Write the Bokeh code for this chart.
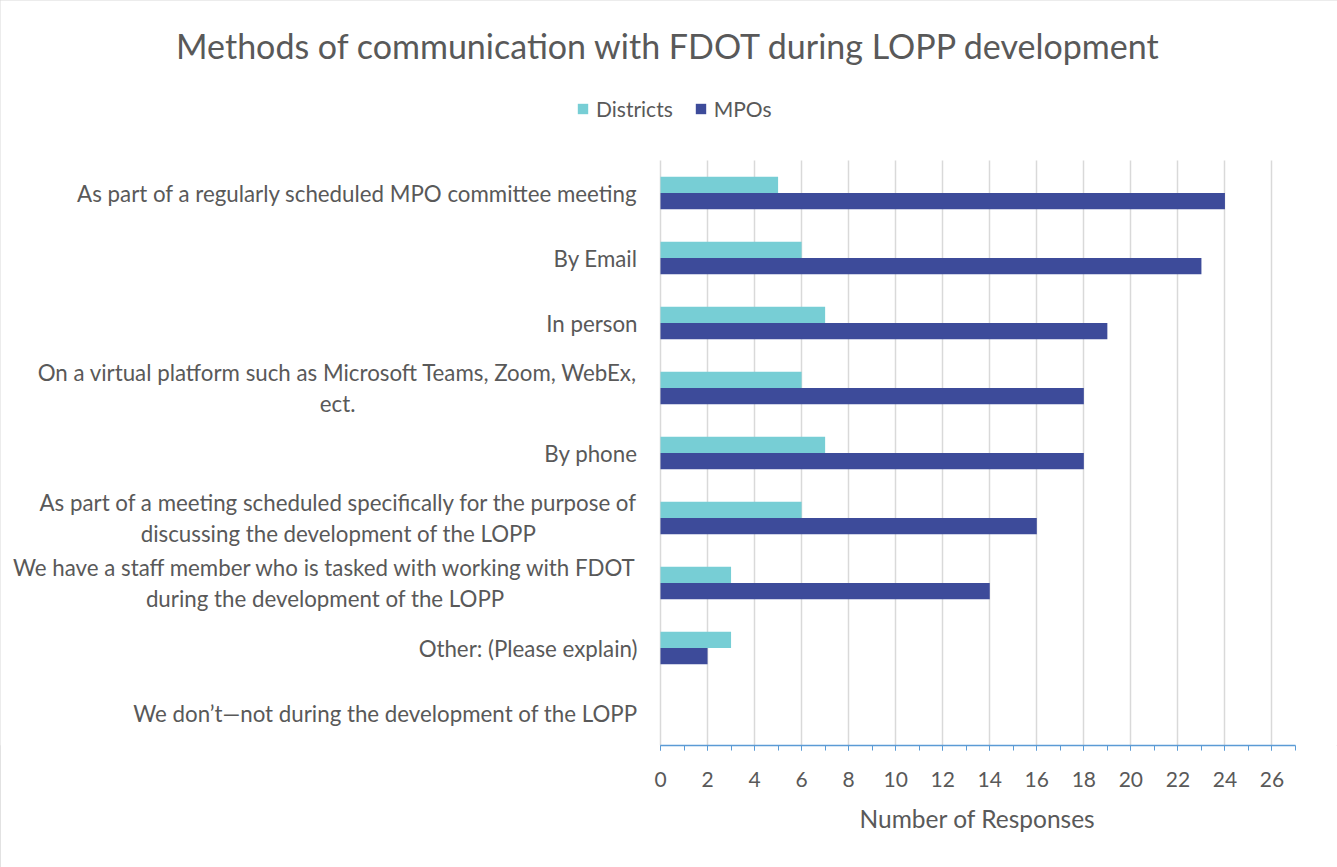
from bokeh.plotting import figure
from bokeh.models import (Range1d, FixedTicker, Legend, LegendItem, Label,
                          Title, ColumnDataSource)
from bokeh.core.properties import value
from bokeh.embed import file_html
from bokeh.resources import INLINE

categories = [
    "As part of a regularly scheduled MPO committee meeting",
    "By Email",
    "In person",
    "On a virtual platform such as Microsoft Teams, Zoom, WebEx,\nect.",
    "By phone",
    "As part of a meeting scheduled specifically for the purpose of\ndiscussing the development of the LOPP",
    "We have a staff member who is tasked with working with FDOT\nduring the development of the LOPP",
    "Other: (Please explain)",
    "We don\u2019t\u2014not during the development of the LOPP",
]
districts = [5, 6, 7, 6, 7, 6, 3, 3, 0]
mpos = [24, 23, 19, 18, 18, 16, 14, 2, 0]
x_ticks = list(range(0, 27, 2))
x_max = 27
title_text = "Methods of communication with FDOT during LOPP development"
x_title = "Number of Responses"

FONT = "Lato"
TXT = "#595959"
C_D = "#77CED5"
C_M = "#3D4B9A"

W, H = 1337, 867
PLOT_L, PLOT_R = 660, 1295       # pixel span of 0 .. x_max
PLOT_T, PLOT_B = 160, 745        # top of first band, axis line
n = len(categories)

ppu = (PLOT_R - PLOT_L) / x_max
ppc = (PLOT_B - PLOT_T) / n
x_lo = -PLOT_L / ppu
x_hi = x_max + (W - PLOT_R) / ppu
y_top = -0.5 - PLOT_T / ppc

ypos = list(range(n))
src = ColumnDataSource(dict(
    y=ypos,
    yd=[y - 0.125 for y in ypos],
    ym=[y + 0.125 for y in ypos],
    zero=[0] * n,
    d=districts, m=mpos, cat=categories))

p = figure(width=W, height=H, x_range=Range1d(x_lo, x_hi),
           y_range=Range1d(n - 0.5, y_top),
           output_backend="svg", toolbar_location=None,
           y_axis_location=None,
           min_border_left=0, min_border_right=0,
           min_border_top=0, min_border_bottom=H - PLOT_B)
p.outline_line_color = None
p.styles = {"outline": "1px solid #D9D9D9", "outline-offset": "-1px"}

rd = p.hbar(y="yd", right="d", left=0, height=0.25, source=src,
            fill_color=C_D, line_color=None)
rm = p.hbar(y="ym", right="m", left=0, height=0.25, source=src,
            fill_color=C_M, line_color=None)

# category labels (right-anchored block, centred lines)
p.text(x="zero", y="y", text="cat", source=src, x_offset=-23,
       anchor=value("center_right"), text_align=value("center"),
       text_font=value(FONT), text_font_size=value("22.3px"),
       text_color=TXT, text_line_height=1.12)

# x axis
p.xaxis.bounds = (0, x_max)
p.xaxis.ticker = FixedTicker(ticks=x_ticks, minor_ticks=list(range(0, x_max + 1)))
p.xaxis.axis_line_color = "#5B9BD5"
p.xaxis.axis_line_width = 1.5
p.xaxis.major_tick_line_color = "#5B9BD5"
p.xaxis.minor_tick_line_color = "#5B9BD5"
p.xaxis.major_tick_in = 0
p.xaxis.major_tick_out = 5
p.xaxis.minor_tick_in = 0
p.xaxis.minor_tick_out = 5
p.xaxis.major_label_text_font = FONT
p.xaxis.major_label_text_font_size = "21px"
p.xaxis.major_label_text_color = TXT
p.xaxis.major_label_standoff = 21

p.add_layout(Title(text=x_title, align="left", offset=859, standoff=24,
                   text_font=FONT, text_font_size="24.5px",
                   text_font_style="normal", text_color=TXT), "below")

p.xgrid.ticker = FixedTicker(ticks=x_ticks)
p.xgrid.grid_line_color = "#D9D9D9"
p.xgrid.grid_line_width = 1.5
p.xgrid.cross_bounds = (-0.5, n - 0.5)
p.ygrid.grid_line_color = None

# title
p.add_layout(Label(x=W / 2, y=PLOT_B - 45, x_units="screen", y_units="screen",
                   text=title_text, text_align="center", text_baseline="middle",
                   text_font=FONT, text_font_size="34px", text_color=TXT))

legend = Legend(items=[LegendItem(label="Districts", renderers=[rd]),
                       LegendItem(label="MPOs", renderers=[rm])],
                orientation="horizontal", location=(576, PLOT_B - 121),
                label_text_font=FONT, label_text_font_size="21px",
                label_text_color=TXT, glyph_width=13, glyph_height=13,
                border_line_color=None, background_fill_alpha=0,
                spacing=21, label_standoff=7, padding=0, margin=0)
p.add_layout(legend, "center")

open("out.html", "w").write(file_html(p, INLINE))
